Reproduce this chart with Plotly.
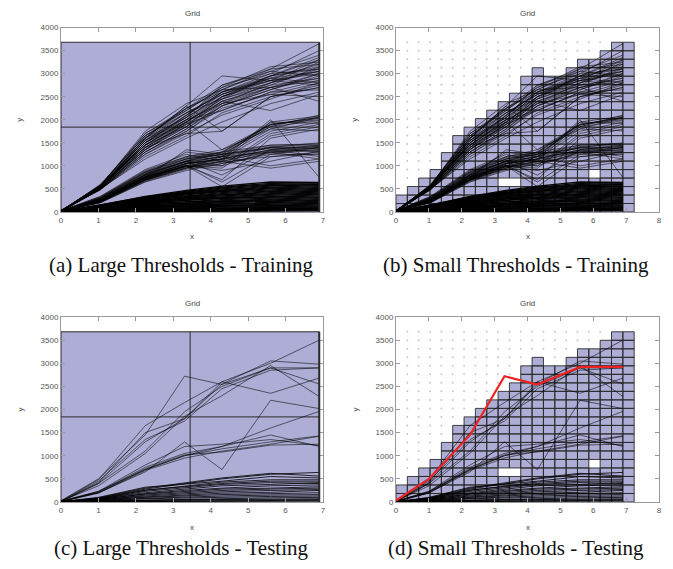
import plotly.graph_objects as go

W, H = 673, 569
PAGE_MARGIN = 8  # default body margin of the html page
FW, FH = W - 2 * PAGE_MARGIN, H - 2 * PAGE_MARGIN

# ---------------- data ----------------
XP_TRAIN = [0, 1.05, 2.25, 3.35, 4.3, 5.6, 6.9]
XP_TEST = [0, 1.0, 2.25, 3.3, 4.3, 5.6, 6.9]

train_top = [
    [20, 560, 1750, 2350, 2650, 3100, 3650],
    [10, 520, 1600, 2300, 2950, 2850, 3300],
    [30, 580, 1700, 2200, 2700, 3150, 3250],
    [15, 500, 1500, 2100, 2600, 3000, 3500],
    [25, 540, 1450, 2000, 2500, 2900, 3200],
    [5, 600, 1650, 2150, 2550, 2950, 3100],
    [40, 480, 1400, 1950, 2450, 2800, 3050],
    [20, 530, 1550, 2050, 2750, 3050, 2950],
    [10, 510, 1350, 1900, 2400, 2750, 3150],
    [30, 570, 1600, 2250, 2650, 2700, 2400],
    [15, 550, 1450, 1850, 2300, 2650, 3000],
    [20, 490, 1300, 1800, 2350, 2700, 2900],
    [35, 520, 1500, 2000, 2200, 2600, 2850],
    [10, 560, 1400, 1700, 1750, 2500, 2750],
    [25, 500, 1250, 1750, 2250, 2550, 2800],
    [15, 530, 1550, 2100, 2600, 2950, 3350],
    [20, 580, 1650, 2200, 2700, 3000, 3100],
    [30, 510, 1350, 1850, 2500, 2850, 3000],
    [10, 490, 1200, 1650, 2150, 2500, 2700],
    [25, 540, 1450, 1950, 2400, 2200, 2550],
    [20, 520, 1500, 2050, 2550, 2900, 3050],
    [15, 560, 1600, 2150, 2450, 2750, 2900],
    [30, 500, 1300, 1800, 2300, 2650, 2950],
    [5, 530, 1400, 1900, 2200, 2600, 2650],
    [20, 550, 1550, 2000, 2350, 2800, 3250],
    [35, 480, 1250, 1700, 2100, 2450, 2800],
    [10, 570, 1700, 2250, 2600, 2850, 2750],
    [25, 520, 1450, 1950, 2500, 2800, 3100],
    [15, 540, 1350, 1850, 2400, 2700, 2850],
    [20, 500, 1150, 1600, 1950, 2350, 2600],
    [30, 560, 1500, 2100, 2650, 3050, 3400],
    [10, 510, 1400, 1900, 2350, 2550, 2500],
    [25, 530, 1600, 2050, 2500, 2950, 3150],
    [20, 490, 1300, 1750, 2300, 2700, 3000],
    [15, 580, 1450, 2000, 2600, 2900, 2800],
    [30, 550, 1550, 2150, 2550, 2850, 3050],
    [20, 540, 1600, 2300, 1750, 2500, 2700],
    [15, 520, 1500, 1950, 1350, 1900, 2050],
    [25, 560, 1650, 2250, 2750, 3100, 3200],
    [10, 500, 1350, 1950, 2450, 2950, 3300],
]

train_midhi = [
    [10, 300, 850, 1150, 1250, 1850, 2100],
    [15, 280, 800, 1100, 1200, 1800, 2050],
    [20, 320, 900, 1200, 1300, 1900, 2000],
    [10, 260, 780, 1050, 1150, 1750, 1950],
    [25, 340, 920, 1250, 1100, 1950, 2080],
    [5, 290, 820, 1100, 1000, 1700, 1900],
    [15, 310, 870, 1150, 1250, 1850, 1980],
    [20, 270, 760, 1000, 950, 1650, 1850],
    [10, 300, 840, 1100, 1300, 1900, 2030],
    [30, 330, 880, 1200, 1350, 1800, 1760],
    [15, 250, 740, 1000, 700, 1600, 1800],
    [20, 290, 810, 1300, 1200, 1950, 1920],
    [10, 310, 860, 1180, 1280, 1880, 2060],
]

train_mid = [
    [10, 230, 700, 1000, 1150, 1350, 1450],
    [15, 250, 750, 1050, 1200, 1400, 1500],
    [20, 210, 680, 950, 1100, 1300, 1400],
    [10, 270, 800, 1100, 1250, 1450, 1480],
    [25, 220, 720, 1000, 1000, 1300, 1350],
    [5, 240, 760, 1050, 1150, 1400, 1300],
    [15, 200, 650, 900, 1050, 1250, 1250],
    [20, 260, 780, 1100, 800, 1350, 1420],
    [10, 230, 700, 950, 1200, 1000, 1150],
    [30, 250, 740, 1350, 1250, 1400, 1380],
    [15, 210, 690, 980, 1100, 950, 1100],
    [20, 280, 820, 1150, 1300, 1450, 1460],
    [10, 220, 710, 1000, 550, 1200, 1300],
    [25, 240, 730, 1050, 1150, 1350, 1200],
    [15, 260, 770, 1080, 1200, 1300, 1150],
    [20, 200, 660, 930, 1050, 1280, 1330],
    [10, 250, 750, 1020, 650, 1250, 1400],
    [30, 230, 700, 980, 1100, 1320, 1350],
    [15, 270, 800, 1120, 1250, 1380, 1420],
    [20, 210, 680, 960, 1080, 1200, 1260],
    [10, 240, 740, 1000, 900, 1100, 1320],
    [25, 220, 700, 1040, 1150, 2000, 750],
    [15, 250, 760, 1060, 1220, 1420, 1440],
    [20, 230, 720, 1010, 1130, 1340, 1390],
]

train_low = [
    [5, 150, 340, 470, 560, 650, 640],
    [10, 140, 320, 450, 540, 620, 630],
    [5, 130, 300, 430, 520, 600, 610],
    [10, 120, 290, 410, 500, 580, 590],
    [5, 150, 330, 420, 480, 560, 600],
    [10, 110, 270, 390, 470, 540, 570],
    [5, 140, 310, 400, 450, 520, 550],
    [10, 100, 250, 370, 440, 500, 530],
    [5, 130, 280, 350, 420, 480, 510],
    [10, 90, 230, 340, 400, 460, 490],
    [5, 120, 260, 330, 380, 440, 470],
    [10, 85, 210, 310, 370, 420, 450],
    [5, 110, 240, 300, 350, 400, 430],
    [10, 80, 200, 290, 330, 380, 410],
    [5, 100, 220, 280, 320, 360, 390],
    [10, 75, 190, 260, 300, 340, 370],
    [5, 90, 200, 250, 290, 320, 350],
    [10, 70, 170, 230, 270, 300, 330],
    [5, 85, 180, 220, 250, 280, 310],
    [10, 65, 150, 200, 230, 260, 290],
    [5, 80, 160, 190, 220, 240, 270],
    [10, 60, 130, 170, 200, 220, 250],
    [5, 70, 140, 160, 180, 200, 230],
    [10, 55, 120, 150, 170, 190, 210],
    [5, 60, 110, 130, 150, 170, 190],
    [10, 50, 100, 120, 140, 150, 170],
    [5, 45, 90, 110, 120, 130, 150],
    [10, 40, 80, 95, 105, 115, 130],
    [5, 35, 70, 80, 90, 100, 110],
    [10, 30, 60, 70, 80, 85, 95],
    [5, 25, 50, 60, 65, 70, 80],
    [10, 20, 40, 50, 55, 60, 65],
    [5, 15, 30, 40, 45, 50, 55],
    [5, 10, 20, 30, 35, 40, 45],
    [0, 5, 12, 18, 22, 25, 28],
]

test_top = [
    [30, 500, 1450, 2720, 2540, 2900, 2900],
    [20, 480, 1650, 2150, 2600, 3000, 3500],
    [20, 420, 1500, 1800, 2550, 3050, 2980],
    [10, 400, 1100, 1950, 2500, 2900, 2550],
    [20, 350, 1050, 1850, 2300, 2950, 2280],
    [15, 450, 1350, 1750, 2450, 2850, 2900],
    [10, 400, 1300, 1800, 2600, 2350, 2680],
    [10, 200, 650, 1300, 700, 2200, 2020],
    [10, 230, 700, 1000, 1200, 1600, 1960],
]

test_mid = [
    [10, 200, 700, 1000, 1150, 1300, 1430],
    [15, 220, 750, 1050, 1200, 1450, 1200],
    [10, 190, 680, 950, 1100, 1250, 1420],
    [20, 230, 800, 1200, 1250, 1350, 1220],
    [10, 210, 720, 1020, 1080, 1230, 1250],
]

test_low = [
    [5, 90, 300, 420, 520, 620, 560],
    [5, 80, 280, 400, 500, 600, 640],
    [5, 100, 320, 380, 450, 550, 520],
    [5, 70, 250, 350, 430, 480, 480],
    [5, 80, 260, 330, 400, 450, 450],
    [5, 60, 230, 300, 380, 420, 400],
    [5, 70, 200, 280, 350, 380, 420],
    [5, 50, 180, 250, 300, 350, 370],
    [5, 60, 170, 230, 280, 300, 330],
    [5, 40, 150, 200, 250, 280, 300],
    [5, 50, 130, 180, 220, 250, 270],
    [5, 40, 110, 150, 190, 210, 250],
    [5, 30, 100, 130, 160, 180, 200],
    [5, 30, 80, 110, 130, 150, 160],
    [5, 20, 70, 90, 100, 120, 130],
    [5, 20, 50, 70, 80, 90, 100],
    [5, 10, 40, 50, 60, 70, 70],
    [5, 10, 30, 40, 45, 50, 50],
    [0, 5, 20, 30, 30, 35, 40],
    [0, 5, 10, 15, 20, 20, 25],
]

highlight_test = [30, 500, 1450, 2720, 2540, 2920, 2920]

# Large-threshold partition
LARGE_X_MAX = 6.9
LARGE_Y_MAX = 3680
LARGE_SPLIT_X = 3.45
LARGE_SPLIT_Y = 1840

# Small-threshold grid
CELL_W = 0.345
CELL_H = 184
COL_CELLS = [2, 3, 4, 5, 7, 9, 10, 11, 12, 13, 14, 16, 17, 16, 16, 17, 18, 18, 19, 20, 20]
HOLES = [(9, 3), (10, 3), (17, 4)]

CAPTIONS = ["(a) Large Thresholds - Training", "(b) Small Thresholds - Training",
            "(c) Large Thresholds - Testing", "(d) Small Thresholds - Testing"]

# ---------------- style ----------------
FILL = "#adadd6"
EDGE = "#2a2a2a"
LINE_C = "rgba(0,0,0,0.78)"
SANS = "Liberation Sans, Arial"

fig = go.Figure()


def px_x(p):
    return (p - PAGE_MARGIN) / FW


def px_y(p):
    return 1 - (p - PAGE_MARGIN) / FH


panels = {
    "a": dict(xa="x", ya="y", xd=(61, 323), yd=(27.5, 212), xr=7),
    "b": dict(xa="x2", ya="y2", xd=(396, 659), yd=(27.5, 212), xr=8),
    "c": dict(xa="x3", ya="y3", xd=(61, 323), yd=(317, 502), xr=7),
    "d": dict(xa="x4", ya="y4", xd=(396, 659), yd=(317, 502), xr=8),
}


def add_lines(xs, rows, xa, ya, width, color=LINE_C):
    X, Y = [], []
    for r in rows:
        X += list(xs) + [None]
        Y += list(r) + [None]
    fig.add_trace(go.Scatter(x=X, y=Y, mode="lines", line=dict(color=color, width=width),
                             xaxis=xa, yaxis=ya, hoverinfo="skip", showlegend=False))


def add_cells(xa, ya):
    X, Y = [], []
    for k, n in enumerate(COL_CELLS):
        for j in range(n):
            if (k, j) in HOLES:
                continue
            x0, x1 = k * CELL_W, (k + 1) * CELL_W
            y0, y1 = j * CELL_H, (j + 1) * CELL_H
            X += [x0, x1, x1, x0, x0, None]
            Y += [y0, y0, y1, y1, y0, None]
    fig.add_trace(go.Scatter(x=X, y=Y, mode="lines", fill="toself", fillcolor=FILL,
                             line=dict(color=EDGE, width=0.9), xaxis=xa, yaxis=ya,
                             hoverinfo="skip", showlegend=False))
    DX, DY = [], []
    ncol = len(COL_CELLS)
    for k in range(1, ncol):
        for j in range(1, max(COL_CELLS) + 1):
            if j > COL_CELLS[k - 1] and j > COL_CELLS[k]:
                DX.append(k * CELL_W)
                DY.append(j * CELL_H)
    fig.add_trace(go.Scatter(x=DX, y=DY, mode="markers", marker=dict(color="#c8c8c8", size=2),
                             xaxis=xa, yaxis=ya, hoverinfo="skip", showlegend=False))


def add_large(xa, ya):
    fig.add_shape(type="rect", x0=0, x1=LARGE_X_MAX, y0=0, y1=LARGE_Y_MAX, xref=xa, yref=ya,
                  fillcolor=FILL, line=dict(color=EDGE, width=1), layer="below")
    fig.add_shape(type="line", x0=LARGE_SPLIT_X, x1=LARGE_SPLIT_X, y0=0, y1=LARGE_Y_MAX,
                  xref=xa, yref=ya, line=dict(color=EDGE, width=1), layer="below")
    fig.add_shape(type="line", x0=0, x1=LARGE_X_MAX, y0=LARGE_SPLIT_Y, y1=LARGE_SPLIT_Y,
                  xref=xa, yref=ya, line=dict(color=EDGE, width=1), layer="below")
    fig.add_shape(type="line", x0=LARGE_X_MAX, x1=LARGE_X_MAX, y0=0, y1=LARGE_Y_MAX,
                  xref=xa, yref=ya, line=dict(color=EDGE, width=2), layer="above")


for key, p in panels.items():
    xa, ya = p["xa"], p["ya"]
    if key in ("a", "c"):
        add_large(xa, ya)
    else:
        add_cells(xa, ya)
    if key in ("a", "b"):
        add_lines(XP_TRAIN, train_top, xa, ya, 0.7)
        add_lines(XP_TRAIN, train_midhi, xa, ya, 0.7)
        add_lines(XP_TRAIN, train_mid, xa, ya, 0.7)
        add_lines(XP_TRAIN, train_low, xa, ya, 1.3, "rgba(0,0,0,0.95)")
    else:
        add_lines(XP_TEST, test_top, xa, ya, 0.7)
        add_lines(XP_TEST, test_mid, xa, ya, 0.7)
        add_lines(XP_TEST, test_low, xa, ya, 0.9, "rgba(0,0,0,0.9)")
    if key == "d":
        fig.add_trace(go.Scatter(x=XP_TEST, y=highlight_test, mode="lines",
                                 line=dict(color="#ee2222", width=2.2), xaxis=xa, yaxis=ya,
                                 hoverinfo="skip", showlegend=False))

axis_common = dict(showgrid=False, zeroline=False, showline=True, linecolor="#9a9a9a",
                   linewidth=1, mirror="ticks", ticks="inside", ticklen=4, tickcolor="#9a9a9a",
                   automargin=False,
                   tickfont=dict(family=SANS, size=8, color="#555"))

layout = dict(width=FW, height=FH, margin=dict(l=0, r=0, t=0, b=0, autoexpand=False),
              paper_bgcolor="white", plot_bgcolor="white", showlegend=False)

ann = []
for i, (key, p) in enumerate(panels.items()):
    sfx = "" if i == 0 else str(i + 1)
    xd = (px_x(p["xd"][0]), px_x(p["xd"][1]))
    yd = (px_y(p["yd"][1]), px_y(p["yd"][0]))
    layout["xaxis" + sfx] = dict(axis_common, domain=xd, range=[0, p["xr"]], dtick=1,
                                 anchor=p["ya"])
    layout["yaxis" + sfx] = dict(axis_common, domain=yd, range=[0, 4000], dtick=500,
                                 anchor=p["xa"])
    cx = (p["xd"][0] + p["xd"][1]) / 2
    common = dict(xref="paper", yref="paper", showarrow=False, xanchor="center", yanchor="middle")
    ann.append(dict(common, text="Grid", x=px_x(cx), y=px_y(p["yd"][0] - 14),
                    font=dict(family=SANS, size=8, color="#444")))
    ann.append(dict(common, text="x", x=px_x(cx), y=px_y(p["yd"][1] + 25),
                    font=dict(family=SANS, size=8, color="#444")))
    ann.append(dict(common, text="y", x=px_x(p["xd"][0] - 41),
                    y=px_y((p["yd"][0] + p["yd"][1]) / 2), textangle=-90,
                    font=dict(family=SANS, size=8, color="#444")))
    capx = 181 if key in ("a", "c") else 516
    capy = 265 if key in ("a", "b") else 548
    ann.append(dict(common, text=CAPTIONS[i], x=px_x(capx), y=px_y(capy), borderpad=0,
                    font=dict(family="Liberation Serif, Times New Roman", size=21, color="#111")))

layout["annotations"] = ann
fig.update_layout(**layout)
fig.write_html("out.html")
